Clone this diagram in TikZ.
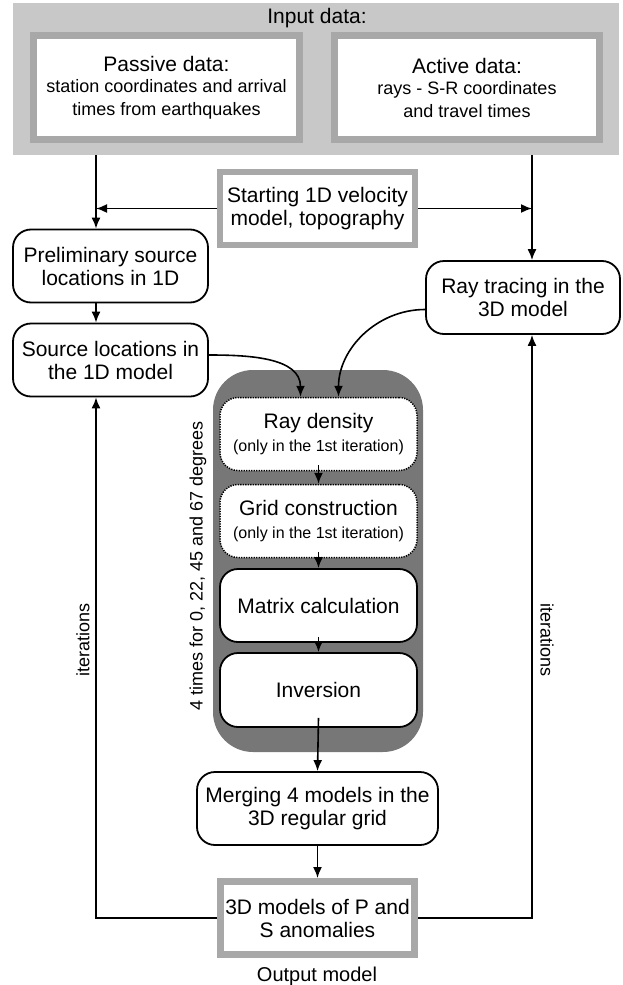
\documentclass[tikz,border=0pt]{standalone}
\usepackage{fontspec}
\setmainfont{Liberation Sans}
\usepackage{tikz}
\usetikzlibrary{shapes,arrows.meta,backgrounds}
\definecolor{bandgray}{HTML}{C8C8C8}
\definecolor{framegray}{HTML}{A8A8A8}
\definecolor{loopgray}{HTML}{777777}
\newcommand{\bigtxt}{\fontsize{21}{23}\selectfont}
\newcommand{\subtxt}{\fontsize{18}{20}\selectfont}
\newcommand{\noteTxt}{\fontsize{16}{19}\selectfont}
\tikzset{
  databand/.style={ fill=bandgray, minimum width=606pt, minimum height=152pt }
}
\tikzset{
  databox/.style={ draw=framegray, line width=7pt, fill=white, align=center, minimum width=266pt, minimum height=104pt, inner sep=1pt }
}
\tikzset{
  stepbox/.style={ draw, line width=1.8pt, rounded corners=18pt, fill=white, align=center, font=\bigtxt, minimum width=195pt, minimum height=73pt, inner sep=1pt }
}
\tikzset{
  optbox/.style={ stepbox, line width=1.5pt, dash pattern=on 1.3pt off 1.2pt, minimum width=197pt }
}
\tikzset{
  loopbox/.style={ fill=loopgray, rounded corners=40pt, minimum width=210pt, minimum height=382pt }
}
\tikzset{
  conn/.style={ line width=1.6pt, -{Latex[length=11pt,width=9pt]} }
}

\begin{document}
\begin{tikzpicture}[x=1pt, y=-1pt]
      \useasboundingbox (0,0) rectangle (623,985);
      \coordinate (lcol) at (96, 0);
      \coordinate (rcol) at (532, 0);

      % input data
      \node[databand] (input) at (316, 79) {};
      \node[font=\bigtxt] (inputlbl) at (317, 18) {Input data:};
      \node[databox, font=\bigtxt] (passive) at (166.5, 87.5) {Passive data:\\[-2pt]
        \subtxt station coordinates and arrival\\ \subtxt times from earthquakes};
      \node[databox, font=\bigtxt, minimum width=265pt] (active) at (467, 87.5) {Active data:\\[-2pt]
        \subtxt rays - S-R coordinates\\ \subtxt and travel times};

      \node[databox, line width=6pt, font=\bigtxt, minimum width=195pt, minimum height=73pt] (start) at (317.5, 208.5) {Starting 1D velocity\\ model, topography};

      \node[stepbox] (prelim) at (110.5, 266) {Preliminary source\\ locations in 1D};
      \node[stepbox] (source) at (110.5, 360) {Source locations in\\ the 1D model};
      \node[stepbox, minimum width=194pt] (raytr) at (523, 297.5) {Ray tracing in the\\ 3D model};

      % loop over the grid orientations
      \node[loopbox] (loop) at (318, 561) {};
      \node[optbox] (raydens) at (318.5, 434) {Ray density\\ \noteTxt (only in the 1st iteration)};
      \node[optbox] (grid) at (318.5, 521) {Grid construction\\ \noteTxt (only in the 1st iteration)};
      \node[stepbox, minimum width=197pt] (matrix) at (318.5, 605.5) {Matrix calculation};
      \node[stepbox, minimum width=197pt, minimum height=74pt] (inv) at (318.5, 690) {Inversion};
      \node[font=\subtxt, rotate=90] (times) at (198, 566) {4 times for 0, 22, 45 and 67 degrees};

      \node[stepbox, minimum width=241pt] (merge) at (317.5, 808.5) {Merging 4 models in the\\ 3D regular grid};
      \node[databox, font=\bigtxt, minimum width=194pt, minimum height=73pt] (output) at (317.5, 918) {3D models of P and\\ S anomalies};
      \node[font=\fontsize{20}{22}\selectfont] (outlbl) at (317, 976) {Output model};

      \node[font=\subtxt, rotate=90] (iterl) at (83, 640) {iterations};
      \node[font=\subtxt, rotate=-90] (iterr) at (547, 640) {iterations};

      \draw[conn] (input.south -| lcol) -- (prelim.north -| lcol);
      \draw[conn] (input.south -| rcol) -- (raytr.north -| rcol);
      \draw[conn] (start.west) -- (start.west -| lcol);
      \draw[conn] (start.east) -- (start.east -| rcol);
      \draw[conn] (prelim.south -| lcol) -- (source.north -| lcol);

      \draw[conn] ([yshift=5pt]source.east) to[out=0, in=90] ([xshift=-18pt]raydens.north);
      \draw[conn] ([yshift=-12pt]raytr.west) to[out=180, in=90] ([xshift=20pt]raydens.north);

      \draw[conn] ([yshift=6pt]raydens.south) -- (grid.north);
      \draw[conn] ([yshift=6pt]grid.south) -- (matrix.north);
      \draw[conn] ([yshift=6pt]matrix.south) -- (inv.north);
      \draw[conn] ([yshift=10pt]inv.south) -- (merge.north);
      \draw[conn] (merge.south) -- (output.north);

      \draw[conn] (output.west) -| (source.south -| lcol);
      \draw[conn] (output.east) -| (raytr.south -| rcol);
    \end{tikzpicture}
\end{document}
